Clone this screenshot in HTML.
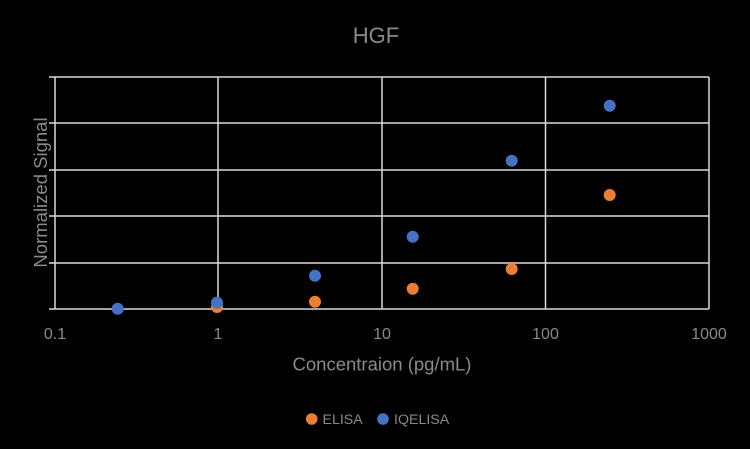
<!DOCTYPE html>
<html><head><meta charset="utf-8"><style>
html,body{margin:0;padding:0;background:#000;}
svg{display:block;}
text{font-family:"Liberation Sans",sans-serif;fill:#8a8a8a;}
</style></head><body>
<svg width="750" height="449" viewBox="0 0 750 449" xmlns="http://www.w3.org/2000/svg">
<rect width="750" height="449" fill="#000"/>
<text x="376" y="43" font-size="22" text-anchor="middle" fill="#808080">HGF</text>
<g stroke="#d9d9d9" stroke-width="1.5" fill="none">
<line x1="49" y1="77" x2="709" y2="77"/>
<line x1="49" y1="123" x2="709" y2="123"/>
<line x1="49" y1="170" x2="709" y2="170"/>
<line x1="49" y1="216" x2="709" y2="216"/>
<line x1="49" y1="263" x2="709" y2="263"/>
<line x1="49" y1="309" x2="709" y2="309"/>
<line x1="55" y1="77" x2="55" y2="309"/>
<line x1="218" y1="77" x2="218" y2="309"/>
<line x1="382" y1="77" x2="382" y2="309"/>
<line x1="545.5" y1="77" x2="545.5" y2="309"/>
<line x1="709" y1="77" x2="709" y2="309"/>
</g>
<g font-size="16" text-anchor="middle">
<text x="55" y="339">0.1</text>
<text x="218" y="339">1</text>
<text x="382" y="339">10</text>
<text x="545.5" y="339">100</text>
<text x="709" y="339">1000</text>
</g>
<text x="382" y="370.5" font-size="18.5" text-anchor="middle">Concentraion (pg/mL)</text>
<text transform="translate(47,192.5) rotate(-90)" font-size="18.5" text-anchor="middle">Normalized Signal</text>
<g fill="#ED7D31">
<circle cx="217" cy="307" r="6"/>
<circle cx="315" cy="301.7" r="6"/>
<circle cx="412.7" cy="288.7" r="6"/>
<circle cx="511.7" cy="269" r="6"/>
<circle cx="609.7" cy="195" r="6"/>
</g>
<g fill="#4472C4">
<circle cx="117.7" cy="308.7" r="6"/>
<circle cx="217" cy="302.7" r="6"/>
<circle cx="315" cy="275.7" r="6"/>
<circle cx="412.7" cy="236.7" r="6"/>
<circle cx="511.7" cy="160.7" r="6"/>
<circle cx="609.7" cy="105.7" r="6"/>
</g>
<circle cx="311.7" cy="419" r="5.8" fill="#ED7D31"/>
<text x="322.5" y="424" font-size="14.2">ELISA</text>
<circle cx="383" cy="419" r="5.8" fill="#4472C4"/>
<text x="394" y="424" font-size="14.2">IQELISA</text>
</svg>
</body></html>
